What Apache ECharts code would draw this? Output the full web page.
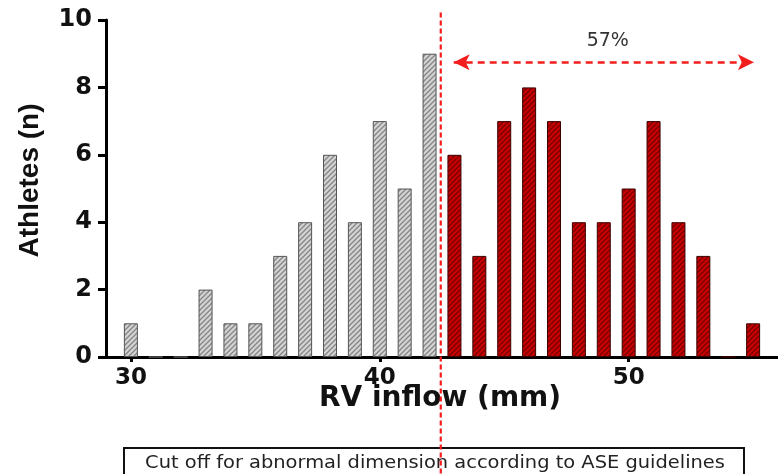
<!DOCTYPE html>
<html>
<head>
<meta charset="utf-8">
<script src="https://cdn.jsdelivr.net/npm/echarts@6/dist/echarts.min.js"></script>
<style>
  html, body { margin: 0; padding: 0; background: #fff; }
  #chart { width: 778px; height: 474px; }
</style>
</head>
<body>
<div id="chart"></div>
<script>
// RV inflow (mm) bins and athlete counts
var normalInflow = [30, 31, 32, 33, 34, 35, 36, 37, 38, 39, 40, 41, 42];
var normalCounts = [1, 0, 0, 2, 1, 1, 3, 4, 6, 4, 7, 5, 9];
var abnormalInflow = [43, 44, 45, 46, 47, 48, 49, 50, 51, 52, 53, 54, 55];
var abnormalCounts = [6, 3, 7, 8, 7, 4, 4, 5, 7, 4, 3, 0, 1];
var xTicks = [30, 40, 50];
var cutoff = 42.45;
var arrowFrom = 42.97, arrowTo = 55.03, arrowLevel = 8.75;
var percentText = '57%';
var boxText = 'Cut off for abnormal dimension according to ASE guidelines';

function pairs(xs, ys) {
    var res = [];
    for (var i = 0; i < xs.length; i++) {
        res.push([xs[i], ys[i]]);
    }
    return res;
}

// diagonal hatch fill
function hatch(bg, line) {
    var c = document.createElement('canvas');
    c.width = 5; c.height = 5;
    var ctx = c.getContext('2d');
    ctx.fillStyle = bg;
    ctx.fillRect(0, 0, 5, 5);
    ctx.strokeStyle = line;
    ctx.lineWidth = 1.3;
    ctx.beginPath();
    ctx.moveTo(0, 5); ctx.lineTo(5, 0);
    ctx.moveTo(-2.5, 2.5); ctx.lineTo(2.5, -2.5);
    ctx.moveTo(2.5, 7.5); ctx.lineTo(7.5, 2.5);
    ctx.stroke();
    return c;
}

var boldFont = 'DejaVu Sans';

var chart = echarts.init(document.getElementById('chart'));

var option = {
    backgroundColor: '#fff',
    animation: false,
    grid: { left: 106, top: 20, width: 676, bottom: 117, containLabel: false },
    xAxis: {
        type: 'value',
        min: 29,
        max: 56,
        interval: 10,
        name: 'RV inflow (mm)',
        nameLocation: 'middle',
        nameGap: 28,
        nameMoveOverlap: false,
        nameTextStyle: { fontFamily: boldFont, fontWeight: 'bold', fontSize: 28, color: '#111', padding: [0, 4, 0, 0] },
        axisLine: { lineStyle: { color: '#000', width: 3 } },
        axisTick: { show: true, length: 5, lineStyle: { color: '#000', width: 3 }, customValues: xTicks },
        axisLabel: { fontFamily: boldFont, fontWeight: 'bold', fontSize: 23, color: '#111', margin: 10, customValues: xTicks },
        splitLine: { show: false }
    },
    yAxis: {
        type: 'value',
        min: 0,
        max: 10,
        interval: 2,
        name: 'Athletes (n)',
        nameLocation: 'middle',
        nameGap: 62,
        nameMoveOverlap: false,
        nameTextStyle: { fontFamily: 'Liberation Sans', fontWeight: 'bold', fontSize: 28, color: '#111', padding: [0, 0, 0, 16] },
        axisLine: { show: true, lineStyle: { color: '#000', width: 3 } },
        axisTick: { show: true, length: 8, lineStyle: { color: '#000', width: 3 } },
        axisLabel: { fontFamily: boldFont, fontWeight: 'bold', fontSize: 24, color: '#111', margin: 14 },
        splitLine: { show: false }
    },
    series: [
        {
            name: 'normal',
            type: 'bar',
            barWidth: 14,
            barGap: '-100%',
            data: pairs(normalInflow, normalCounts),
            itemStyle: {
                color: { image: hatch('#d4d4d4', '#858585'), repeat: 'repeat' },
                borderColor: '#555',
                borderWidth: 1
            },
            z: 2
        },
        {
            name: 'abnormal',
            type: 'bar',
            barWidth: 14,
            barGap: '-100%',
            data: pairs(abnormalInflow, abnormalCounts),
            itemStyle: {
                color: { image: hatch('#c80000', '#7a0000'), repeat: 'repeat' },
                borderColor: '#3a0000',
                borderWidth: 1
            },
            markLine: {
                silent: true,
                symbol: ['arrow', 'arrow'],
                symbolSize: [12, 16],
                lineStyle: { color: '#f21d1d', width: 2.5, type: [7, 5] },
                label: {
                    show: true,
                    position: 'middle',
                    formatter: percentText,
                    fontFamily: 'DejaVu Sans',
                    fontSize: 19,
                    color: '#333',
                    distance: 12,
                    padding: [0, 0, 0, 8]
                },
                data: [[
                    { coord: [arrowFrom, arrowLevel] },
                    { coord: [arrowTo, arrowLevel] }
                ]]
            },
            z: 2
        },
        {
            // cutoff line, runs past the plot down through the note box
            type: 'custom',
            clip: false,
            silent: true,
            z: 5,
            data: [[cutoff, 10.22]],
            renderItem: function (params, api) {
                var top = api.coord([api.value(0), api.value(1)]);
                return {
                    type: 'line',
                    shape: { x1: top[0], y1: top[1], x2: top[0], y2: api.getHeight() },
                    style: { stroke: '#f21d1d', lineWidth: 2.2, lineDash: [5, 3] }
                };
            }
        }
    ],
    graphic: [
        {
            type: 'group',
            left: 123,
            top: 447,
            children: [
                {
                    type: 'rect',
                    shape: { x: 0, y: 0, width: 620, height: 34 },
                    style: { fill: '#fff', stroke: '#111', lineWidth: 2 }
                },
                {
                    type: 'text',
                    x: 311,
                    y: 15,
                    scaleX: 1.11,
                    style: {
                        text: boxText,
                        fontFamily: 'DejaVu Sans',
                        fontSize: 17.5,
                        fill: '#222',
                        align: 'center',
                        verticalAlign: 'middle'
                    }
                }
            ]
        }
    ]
};

chart.setOption(option);
</script>
</body>
</html>
